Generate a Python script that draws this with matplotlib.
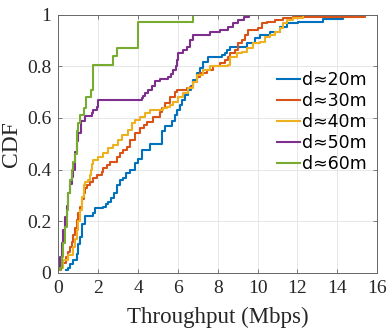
import matplotlib
matplotlib.use("Agg")
import matplotlib.pyplot as plt

# Step breakpoints of the empirical CDFs (x in Mbps, y = CDF after the step)
x20 = [0.39, 0.5, 0.6, 0.75, 0.92, 1.0, 1.09, 1.2, 1.34, 1.76, 1.84, 2.26, 2.4, 2.51, 2.65, 2.8, 2.93, 3.1, 3.23, 3.4, 3.6, 3.85, 4.02, 4.19, 4.6, 5.19, 5.36, 5.7, 5.86, 5.94, 6.1, 6.19, 6.35, 6.53, 6.65, 6.78, 6.95, 7.1, 7.28, 7.53, 8.2, 8.37, 8.45, 8.59, 9.49, 9.87, 10.12, 10.63, 11.13, 11.47, 12.05, 13.3, 14.3, 14.4]
y20 = [0.01, 0.02, 0.035, 0.05, 0.075, 0.11, 0.14, 0.19, 0.22, 0.23, 0.25, 0.256, 0.265, 0.275, 0.29, 0.31, 0.34, 0.36, 0.366, 0.385, 0.40, 0.424, 0.443, 0.476, 0.50, 0.55, 0.57, 0.59, 0.61, 0.63, 0.65, 0.67, 0.69, 0.708, 0.725, 0.746, 0.773, 0.795, 0.818, 0.837, 0.844, 0.85, 0.865, 0.876, 0.889, 0.908, 0.921, 0.934, 0.953, 0.967, 0.973, 0.982, 0.99, 1.0]

x30 = [0.04, 0.15, 0.25, 0.4, 0.5, 0.6, 0.67, 0.75, 0.85, 0.92, 1.0, 1.09, 1.17, 1.26, 1.34, 1.43, 1.59, 1.76, 1.93, 2.18, 2.26, 2.45, 2.6, 2.93, 3.1, 3.25, 3.43, 3.6, 3.85, 4.1, 4.3, 4.44, 4.77, 5.1, 5.2, 5.36, 5.6, 5.86, 5.94, 6.44, 6.61, 6.78, 6.95, 7.11, 7.45, 7.78, 8.12, 8.37, 8.5, 8.62, 8.87, 9.04, 9.21, 9.37, 9.54, 10.04, 10.21, 10.46, 10.88, 11.3, 11.8, 15.4]
y30 = [0.01, 0.025, 0.04, 0.06, 0.08, 0.1, 0.12, 0.146, 0.175, 0.204, 0.23, 0.256, 0.285, 0.31, 0.327, 0.34, 0.353, 0.366, 0.379, 0.391, 0.405, 0.418, 0.43, 0.45, 0.463, 0.475, 0.488, 0.514, 0.54, 0.56, 0.572, 0.585, 0.605, 0.624, 0.64, 0.657, 0.682, 0.70, 0.708, 0.715, 0.72, 0.74, 0.76, 0.773, 0.786, 0.80, 0.812, 0.824, 0.837, 0.85, 0.863, 0.889, 0.902, 0.921, 0.94, 0.947, 0.967, 0.973, 0.98, 0.986, 0.993, 1.0]

x40 = [0.09, 0.25, 0.5, 0.75, 0.85, 0.92, 1.0, 1.09, 1.17, 1.26, 1.34, 1.51, 1.59, 1.65, 1.71, 1.76, 2.01, 2.26, 2.51, 2.76, 3.01, 3.18, 3.51, 3.68, 3.85, 4.1, 4.35, 4.6, 5.27, 5.44, 5.6, 5.77, 6.02, 6.27, 6.53, 6.78, 6.95, 7.28, 7.62, 8.53, 8.62, 8.96, 9.21, 9.46, 9.79, 10.12, 10.38, 10.63, 10.88, 11.13, 11.3, 11.47, 11.8, 12.3]
y40 = [0.02, 0.05, 0.07, 0.10, 0.13, 0.165, 0.2, 0.243, 0.295, 0.34, 0.353, 0.36, 0.379, 0.40, 0.42, 0.437, 0.45, 0.463, 0.482, 0.495, 0.514, 0.534, 0.553, 0.579, 0.592, 0.605, 0.618, 0.63, 0.637, 0.643, 0.65, 0.663, 0.682, 0.695, 0.715, 0.74, 0.766, 0.786, 0.80, 0.805, 0.837, 0.85, 0.856, 0.87, 0.889, 0.895, 0.915, 0.921, 0.934, 0.947, 0.967, 0.98, 0.986, 1.0]

x50 = [0.0, 0.08, 0.17, 0.25, 0.34, 0.42, 0.5, 0.59, 0.67, 0.75, 0.84, 0.92, 1.0, 1.14, 1.34, 1.68, 1.76, 1.93, 2.01, 4.19, 4.27, 4.35, 4.52, 4.7, 4.85, 5.1, 5.52, 5.65, 5.77, 5.9, 5.94, 6.02, 6.27, 6.44, 6.61, 6.78, 7.62, 8.12, 8.53, 8.79, 9.04, 9.3, 9.59]
y50 = [0.02, 0.06, 0.114, 0.165, 0.217, 0.26, 0.31, 0.345, 0.372, 0.40, 0.47, 0.51, 0.54, 0.59, 0.607, 0.618, 0.63, 0.643, 0.669, 0.676, 0.685, 0.695, 0.71, 0.725, 0.744, 0.75, 0.76, 0.77, 0.786, 0.80, 0.824, 0.85, 0.863, 0.876, 0.902, 0.921, 0.933, 0.94, 0.953, 0.967, 0.98, 0.99, 1.0]

x60 = [0.05, 0.09, 0.17, 0.25, 0.34, 0.42, 0.5, 0.59, 0.67, 0.75, 0.84, 0.92, 0.97, 1.09, 1.26, 1.37, 1.64, 1.76, 2.76, 2.93, 3.98, 6.75]
y60 = [0.01, 0.017, 0.06, 0.114, 0.178, 0.243, 0.31, 0.36, 0.40, 0.43, 0.46, 0.55, 0.58, 0.61, 0.64, 0.68, 0.71, 0.805, 0.84, 0.87, 0.97, 1.0]

labels = ["d\u224820m", "d\u224830m", "d\u224840m", "d\u224850m", "d\u224860m"]
colors = ["#0072BD", "#D95319", "#EDB120", "#7E2F8E", "#77AC30"]

xticks = [0, 2, 4, 6, 8, 10, 12, 14, 16]
yticks = [0, 0.2, 0.4, 0.6, 0.8, 1]
yticklabels = ["0", "0.2", "0.4", "0.6", "0.8", "1"]

fig = plt.figure(figsize=(3.92, 3.34), dpi=100)
ax = fig.add_axes([0.149, 0.183, 0.813, 0.773])

series = [(x20, y20), (x30, y30), (x40, y40), (x50, y50), (x60, y60)]
for (xs, ys), lab, c in zip(series, labels, colors):
    ax.plot(xs, ys, drawstyle="steps-post", color=c, lw=1.5, label=lab)

ax.set_xlim(0, 16)
ax.set_ylim(0, 1)
ax.set_xticks(xticks)
ax.set_yticks(yticks)
ax.set_xticklabels([str(t) for t in xticks])
ax.set_yticklabels(yticklabels)
ax.grid(True, color="#e3e3e3", lw=0.6)
ax.set_axisbelow(True)
for s in ax.spines.values():
    s.set_color("#666666")
    s.set_linewidth(0.7)
ax.tick_params(direction="in", length=3, width=0.6, color="#666666",
               top=True, right=True, labelsize=14, labelcolor="#262626", pad=5)
for lbl in ax.get_xticklabels() + ax.get_yticklabels():
    lbl.set_family("Liberation Serif")

ax.set_xlabel("Throughput (Mbps)", family="Liberation Serif", fontsize=16.5, color="#262626", labelpad=7)
ax.set_ylabel("CDF", family="Liberation Serif", fontsize=17, color="#262626", labelpad=4)

leg = ax.legend(loc="upper left", bbox_to_anchor=(0.686, 0.78), frameon=False,
                prop={"family": ["DejaVu Sans"], "size": 12.5},
                handlelength=1.3, handletextpad=0.15, labelspacing=0.16, borderpad=0,
                borderaxespad=0)
for t in leg.get_texts():
    t.set_color("#000000")

fig.savefig("out.png", dpi=100)
